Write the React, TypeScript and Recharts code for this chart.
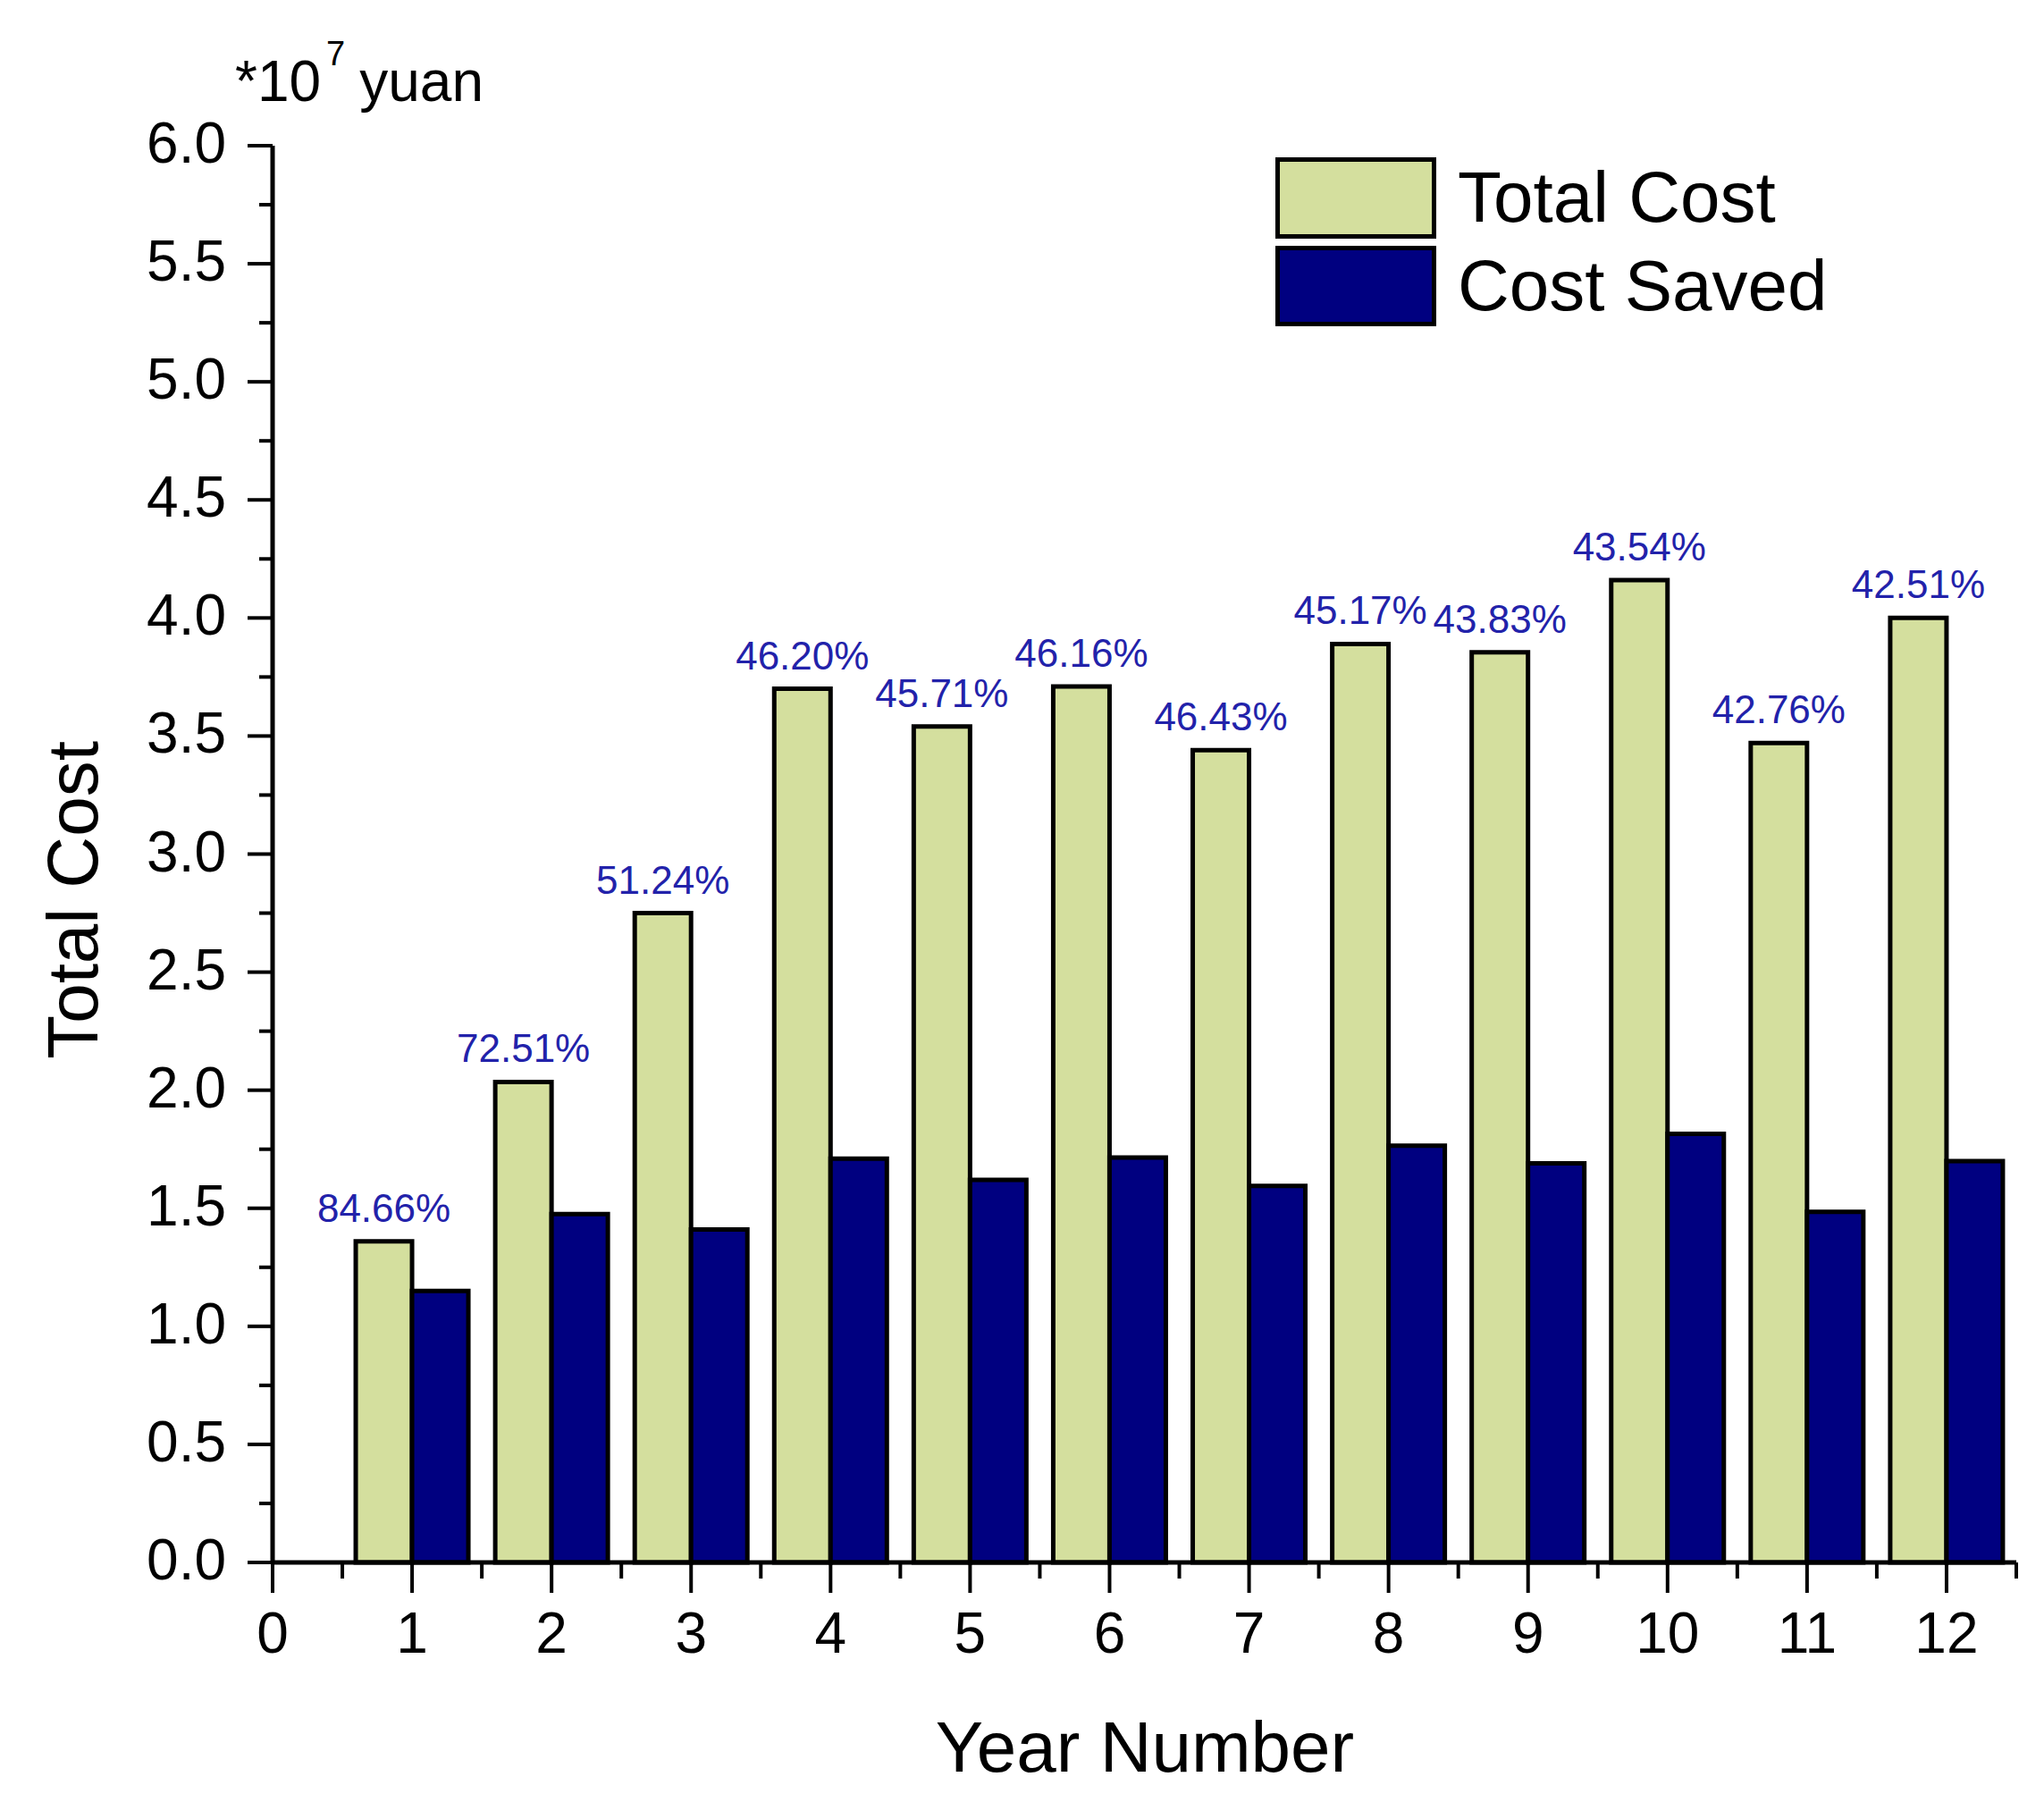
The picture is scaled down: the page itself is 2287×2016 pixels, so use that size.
import { Bar, BarChart, LabelList, XAxis, YAxis } from "recharts";

const YEARS = [1, 2, 3, 4, 5, 6, 7, 8, 9, 10, 11, 12];
const TOTAL_COST = [1.36, 2.035, 2.75, 3.7, 3.54, 3.71, 3.44, 3.89, 3.855, 4.16, 3.47, 4.0];
const COST_SAVED = [1.15, 1.475, 1.41, 1.71, 1.62, 1.715, 1.595, 1.765, 1.69, 1.815, 1.485, 1.70];
const SAVED_PCT = [
  "84.66%", "72.51%", "51.24%", "46.20%", "45.71%", "46.16%",
  "46.43%", "45.17%", "43.83%", "43.54%", "42.76%", "42.51%",
];
const X_TICKS = [
  0, 0.5, 1, 1.5, 2, 2.5, 3, 3.5, 4, 4.5, 5, 5.5, 6, 6.5,
  7, 7.5, 8, 8.5, 9, 9.5, 10, 10.5, 11, 11.5, 12, 12.5,
];
const Y_TICKS = [
  0, 0.25, 0.5, 0.75, 1, 1.25, 1.5, 1.75, 2, 2.25, 2.5, 2.75, 3,
  3.25, 3.5, 3.75, 4, 4.25, 4.5, 4.75, 5, 5.25, 5.5, 5.75, 6,
];

const GREEN = "#d4df9e";
const NAVY = "#000080";
const PCT_BLUE = "#2222aa";
const FONT = "'Liberation Sans', Arial, sans-serif";

const data = YEARS.map((year, i) => ({
  year,
  total: TOTAL_COST[i],
  saved: COST_SAVED[i],
  pct: SAVED_PCT[i],
}));

function XTick({ x, y, payload }: any) {
  const v = payload.value as number;
  const major = Number.isInteger(v);
  return (
    <g>
      <line x1={x} x2={x} y1={y} y2={y + (major ? 34 : 18)} stroke="#000" strokeWidth={4} />
      {major && (
        <text x={x} y={y + 101} textAnchor="middle" fontSize={64} fontFamily={FONT} fill="#000">
          {v}
        </text>
      )}
    </g>
  );
}

function YTick({ x, y, payload }: any) {
  const v = payload.value as number;
  const major = Math.abs(v * 2 - Math.round(v * 2)) < 1e-6;
  return (
    <g>
      <line x1={x - (major ? 28 : 15)} x2={x} y1={y} y2={y} stroke="#000" strokeWidth={4} />
      {major && (
        <text x={x - 52} y={y + 19} textAnchor="end" fontSize={64} fontFamily={FONT} fill="#000">
          {v.toFixed(1)}
        </text>
      )}
    </g>
  );
}

function PctLabel(props: any) {
  const { x, y, width, value } = props;
  return (
    <text
      x={x + width / 2}
      y={y - 22}
      textAnchor="middle"
      fontSize={44}
      fontFamily={FONT}
      fill={PCT_BLUE}
    >
      {value}
    </text>
  );
}

function YTitle() {
  return (
    <g fontFamily={FONT} fill="#000">
      <text x={109} y={1007} transform="rotate(-90 109 1007)" textAnchor="middle" fontSize={80}>
        Total Cost
      </text>
      <text x={263} y={113} fontSize={64}>
        *10
        <tspan dx={6} dy={-40} fontSize={38}>7</tspan>
        <tspan dx={16} dy={40} fontSize={64}>yuan</tspan>
      </text>
    </g>
  );
}

function XTitle() {
  return (
    <text x={1281} y={1982} textAnchor="middle" fontSize={80} fontFamily={FONT} fill="#000">
      Year Number
    </text>
  );
}

function LegendBox() {
  return (
    <svg
      width={2287}
      height={2016}
      style={{ position: "absolute", left: 0, top: 0, pointerEvents: "none" }}
    >
      <rect x={1429.5} y={178.5} width={175} height={86} fill={GREEN} stroke="#000" strokeWidth={5} />
      <rect x={1429.5} y={277.5} width={175} height={85} fill={NAVY} stroke="#000" strokeWidth={5} />
      <text x={1631} y={248} fontSize={80} fontFamily={FONT} fill="#000">Total Cost</text>
      <text x={1631} y={347} fontSize={80} fontFamily={FONT} fill="#000">Cost Saved</text>
    </svg>
  );
}

export default function App() {
  return (
    <div
      style={{
        position: "absolute",
        left: 0,
        top: 0,
        width: 2287,
        height: 2016,
        background: "#fff",
        fontFamily: FONT,
      }}
    >
      <BarChart
        width={2287}
        height={2016}
        data={data}
        margin={{ top: 163, right: 31, bottom: 0, left: 0 }}
        barGap={0}
        barSize={63}
      >
        <XAxis
          type="number"
          dataKey="year"
          domain={[0, 12.5]}
          ticks={X_TICKS}
          interval={0}
          height={268}
          tickSize={0}
          tickMargin={0}
          tickLine={false}
          axisLine={{ stroke: "#000", strokeWidth: 5 }}
          tick={<XTick />}
          label={<XTitle />}
        />
        <YAxis
          type="number"
          domain={[0, 6]}
          ticks={Y_TICKS}
          interval={0}
          width={305}
          tickSize={0}
          tickMargin={0}
          tickLine={false}
          axisLine={{ stroke: "#000", strokeWidth: 5 }}
          tick={<YTick />}
          label={<YTitle />}
        />
        <Bar dataKey="total" fill={GREEN} stroke="#000" strokeWidth={5} isAnimationActive={false}>
          <LabelList dataKey="pct" content={<PctLabel />} />
        </Bar>
        <Bar dataKey="saved" fill={NAVY} stroke="#000" strokeWidth={5} isAnimationActive={false} />
      </BarChart>
      <LegendBox />
    </div>
  );
}
